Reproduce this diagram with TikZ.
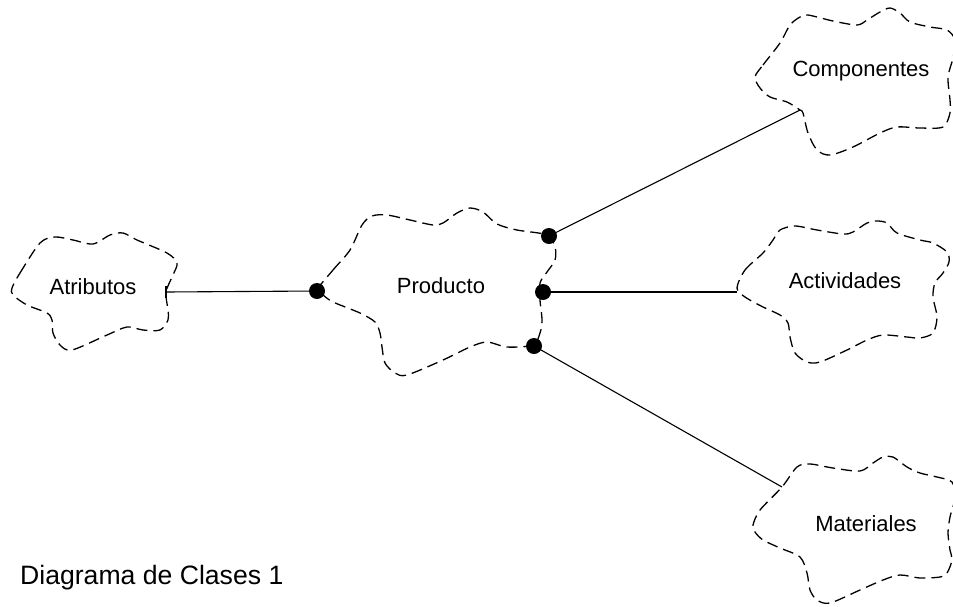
\documentclass[tikz,border=0pt]{standalone}
\usepackage{fontspec}
\setmainfont{Liberation Sans}
\begin{document}
\begin{tikzpicture}[x=1pt,y=-1pt,
  cloud/.style={draw=black,line width=1.3pt,dash pattern=on 11pt off 6pt,line join=round},
  conn/.style={draw=black,line width=1.1pt},
  dot/.style={circle,fill=black,inner sep=0pt,minimum size=16pt},
  lbl/.style={anchor=base,inner sep=0pt,font=\fontsize{22}{26}\selectfont},
  ttl/.style={anchor=base west,inner sep=0pt,font=\fontsize{26.6}{30}\selectfont}]
\useasboundingbox (0,0) rectangle (953,606);
% Atributos cloud
\draw[cloud] plot[smooth cycle,tension=0.5] coordinates {(12,288) (20,273) (40,243) (55,237) (73,240) (93,244) (110,235) (123,233) (137,240) (167,253) (177,263) (173,275) (166,292) (168,310) (168,320) (160,330) (143,330) (127,327) (107,335) (72,350) (60,345) (53,333) (52,320) (47,313) (27,305) (13,295)};
% Producto cloud
\draw[cloud] plot[smooth cycle,tension=0.5] coordinates {(317,290) (333,270) (350,250) (362,225) (372,216) (387,215) (410,220) (433,225) (443,223) (457,213) (470,208) (483,212) (497,224) (517,230) (547,235) (555,247) (555,260) (547,272) (540,283) (540,300) (542,320) (540,333) (533,345) (507,347) (487,342) (470,347) (443,360) (407,375) (395,373) (385,363) (382,347) (380,333) (375,322) (360,313) (333,302) (323,295)};
% Componentes cloud
\draw[cloud] plot[smooth cycle,tension=0.5] coordinates {(755,77) (763,65) (780,43) (790,25) (800,17) (808,15) (833,21) (857,25) (867,20) (880,12) (890,8) (900,13) (910,22) (930,27) (947,30) (955,40) (953,58) (948,77) (950,100) (950,113) (943,127) (920,128) (897,127) (880,133) (853,147) (830,155) (817,150) (808,133) (803,113) (800,110) (787,102) (770,97) (760,88)};
% Actividades cloud
\draw[cloud] plot[smooth cycle,tension=0.5] coordinates {(737,288) (745,270) (763,253) (773,240) (780,230) (795,226) (817,230) (843,234) (853,232) (867,223) (877,221) (887,223) (897,233) (920,240) (933,243) (947,252) (949,262) (943,273) (935,283) (933,297) (937,317) (933,333) (920,338) (907,337) (883,335) (867,340) (847,350) (820,362) (807,362) (795,353) (790,337) (788,323) (780,315) (763,307) (745,297)};
% Materiales cloud
\draw[cloud] plot[smooth cycle,tension=0.5] coordinates {(753,525) (760,510) (782,487) (797,467) (810,464) (833,468) (860,471) (873,463) (883,457) (893,457) (907,467) (920,473) (937,477) (952,482) (955,498) (950,517) (948,533) (950,550) (952,560) (947,573) (940,577) (920,578) (900,575) (883,580) (860,590) (830,603) (817,600) (810,590) (807,573) (800,557) (780,548) (763,540) (755,532)};
% labels
\node[lbl] (atr) at (93,294) {Atributos};
\node[lbl] (prod) at (441,293) {Producto};
\node[lbl] (comp) at (861,76) {Componentes};
\node[lbl] (act) at (845,288) {Actividades};
\node[lbl] (mat) at (866,531) {Materiales};
\node[ttl] (title) at (20,584) {Diagrama de Clases 1};
% attach points
\coordinate (aA) at (166,292);
\coordinate (aAt) at (166,286);
\coordinate (aAb) at (166,298);
\coordinate (aC) at (800,110);
\coordinate (aV) at (737,292);
\coordinate (aM) at (782,487);
% dots
\node[dot] (d1) at (317,291) {};
\node[dot] (d2) at (549,236) {};
\node[dot] (d3) at (543,292) {};
\node[dot] (d4) at (534,346) {};
% connectors
\draw[conn] (aA) -- (d1.center);
\draw[conn] (aAt) -- (aAb);
\draw[conn] (d2.center) -- (aC);
\draw[conn] (d3.center) -- (aV);
\draw[conn] (d4.center) -- (aM);
\end{tikzpicture}
\end{document}
